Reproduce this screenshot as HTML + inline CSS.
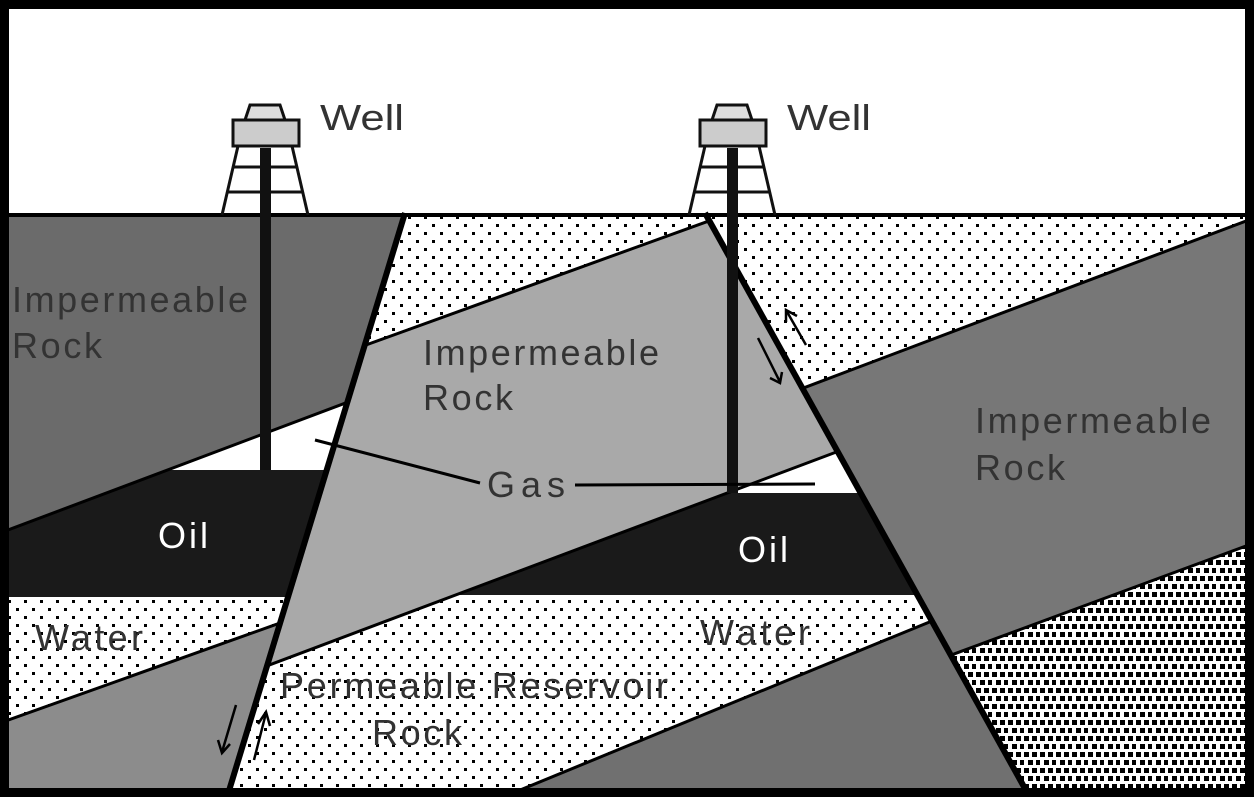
<!DOCTYPE html>
<html><head><meta charset="utf-8"><style>
html,body{margin:0;padding:0;background:#000;width:1254px;height:797px;overflow:hidden}
svg{display:block}
text{font-family:"Liberation Sans",sans-serif;font-size:36px;fill:#333}
</style></head><body>
<svg width="1254" height="797" viewBox="0 0 1254 797" xmlns="http://www.w3.org/2000/svg">
<defs>
<pattern id="dots" width="16" height="16" patternUnits="userSpaceOnUse">
<rect width="16" height="16" fill="#fff"/>
<rect x="0" y="0" width="3" height="3" fill="#000"/>
<rect x="8" y="8" width="3" height="3" fill="#000"/>
</pattern>
<pattern id="dense" width="16" height="16" patternUnits="userSpaceOnUse">
<rect width="16" height="16" fill="#fff"/>
<rect x="0" y="0" width="5" height="5" fill="#000"/>
<rect x="8" y="0" width="5" height="5" fill="#000"/>
<rect x="4" y="8" width="5" height="5" fill="#000"/>
<rect x="12" y="8" width="5" height="5" fill="#000"/>
</pattern>
<clipPath id="cL"><polygon points="0,215 405,215 228,797 0,797"/></clipPath>
<clipPath id="cM"><polygon points="405,215 705,215 1030,797 228,797"/></clipPath>
<clipPath id="cR"><polygon points="705,215 1254,215 1254,797 1030,797"/></clipPath>
<clipPath id="resL"><polygon points="0,533 420,375 420,573 0,723"/></clipPath>
<clipPath id="resM"><polygon points="200,691 1100,353 1100,552 503,797 200,797"/></clipPath>
</defs>
<rect width="1254" height="797" fill="#fff"/>
<g clip-path="url(#cL)">
<rect x="0" y="215" width="420" height="582" fill="#6b6b6b"/>
<g clip-path="url(#resL)">
<rect x="0" y="300" width="420" height="170" fill="#fff"/>
<rect x="0" y="470" width="420" height="127" fill="#1a1a1a"/>
<rect x="0" y="597" width="420" height="200" fill="url(#dots)"/>
</g>
<polygon points="0,723 420,573 420,797 0,797" fill="#8c8c8c"/>
<polyline points="0,533 420,375" stroke="#000" stroke-width="3" fill="none"/>
<polyline points="0,723 420,573" stroke="#000" stroke-width="3" fill="none"/>
</g>
<g clip-path="url(#cM)">
<rect x="200" y="200" width="900" height="597" fill="#a9a9a9"/>
<polygon points="200,405 800,188 800,200 200,200" fill="url(#dots)"/>
<g clip-path="url(#resM)">
<rect x="200" y="300" width="900" height="193" fill="#fff"/>
<rect x="200" y="493" width="900" height="102" fill="#1a1a1a"/>
<rect x="200" y="595" width="900" height="202" fill="url(#dots)"/>
</g>
<polygon points="503,797 1100,552 1100,797" fill="#707070"/>
<line x1="200" y1="405" x2="800" y2="188" stroke="#000" stroke-width="3"/>
<line x1="200" y1="691" x2="1100" y2="353" stroke="#000" stroke-width="3"/>
<line x1="503" y1="797" x2="1100" y2="552" stroke="#000" stroke-width="3"/>
</g>
<g clip-path="url(#cR)">
<rect x="700" y="200" width="554" height="597" fill="#777"/>
<polygon points="700,427 1254,218 1254,200 700,200" fill="url(#dots)"/>
<polygon points="700,748 1254,543 1254,797 700,797" fill="url(#dense)"/>
<line x1="700" y1="427" x2="1254" y2="218" stroke="#000" stroke-width="3"/>
<line x1="700" y1="748" x2="1254" y2="543" stroke="#000" stroke-width="3"/>
</g>
<line x1="405" y1="213" x2="228" y2="794" stroke="#000" stroke-width="6"/>
<line x1="705" y1="213" x2="1028" y2="794" stroke="#000" stroke-width="6"/>
<line x1="0" y1="215" x2="1254" y2="215" stroke="#000" stroke-width="4"/>
<g stroke="#000" stroke-width="2.5" fill="none">
<line x1="758" y1="338" x2="780" y2="382"/><polyline points="770,378 780,383 782,372"/>
<line x1="806" y1="345" x2="786" y2="310"/><polyline points="786,322 786,310 797,316"/>
<line x1="236" y1="705" x2="222" y2="752"/><polyline points="218,740 222,753 230,744"/>
<line x1="254" y1="760" x2="266" y2="713"/><polyline points="258,724 266,712 270,726"/>
</g>
<g id="w1">
<rect x="260" y="148" width="11" height="322" fill="#111"/>
<g stroke="#111" stroke-width="3" fill="none">
<polygon points="250,105 280,105 285,120 245,120" fill="#ddd"/>
<rect x="233" y="120" width="66" height="26" fill="#ccc"/>
<line x1="238" y1="146" x2="222" y2="215"/>
<line x1="292" y1="146" x2="308" y2="215"/>
<line x1="234" y1="167" x2="296" y2="167"/>
<line x1="228" y1="192" x2="302" y2="192"/>
</g>
</g>
<use href="#w1" x="467" y="0"/>
<rect x="727" y="440" width="11" height="53" fill="#111"/>
<line x1="315" y1="440" x2="480" y2="483" stroke="#000" stroke-width="3"/>
<line x1="575" y1="485" x2="815" y2="484" stroke="#000" stroke-width="3"/>
<text x="320" y="130" textLength="84" lengthAdjust="spacingAndGlyphs">Well</text>
<text x="787" y="130" textLength="84" lengthAdjust="spacingAndGlyphs">Well</text>
<text x="12" y="312" textLength="236" lengthAdjust="spacing">Impermeable</text>
<text x="12" y="358" textLength="90" lengthAdjust="spacing">Rock</text>
<text x="423" y="365" textLength="236" lengthAdjust="spacing">Impermeable</text>
<text x="423" y="410" textLength="90" lengthAdjust="spacing">Rock</text>
<text x="975" y="433" textLength="236" lengthAdjust="spacing">Impermeable</text>
<text x="975" y="480" textLength="90" lengthAdjust="spacing">Rock</text>
<text x="487" y="497" textLength="78" lengthAdjust="spacing">Gas</text>
<text x="158" y="548" style="fill:#fff" textLength="50" lengthAdjust="spacing">Oil</text>
<text x="738" y="562" style="fill:#fff" textLength="50" lengthAdjust="spacing">Oil</text>
<text x="35" y="650" textLength="108" lengthAdjust="spacing">Water</text>
<text x="700" y="645" textLength="110" lengthAdjust="spacing">Water</text>
<text x="280" y="698" textLength="388" lengthAdjust="spacing">Permeable Reservoir</text>
<text x="372" y="745" textLength="90" lengthAdjust="spacing">Rock</text>
<rect x="4.5" y="4.5" width="1245" height="788" fill="none" stroke="#000" stroke-width="9"/>
</svg>
</body></html>
